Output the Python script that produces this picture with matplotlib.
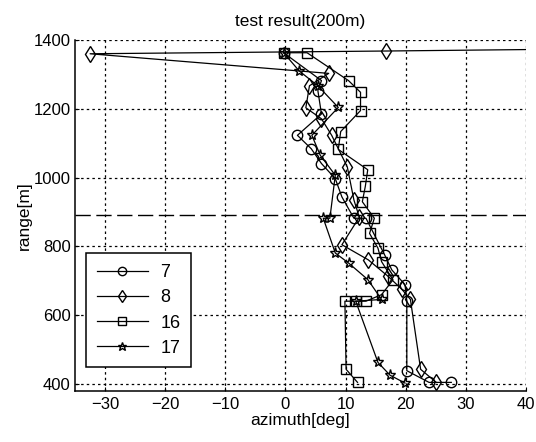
import matplotlib
matplotlib.use("Agg")
import matplotlib.pyplot as plt

plt.rcParams['font.family'] = ['Liberation Sans', 'DejaVu Sans']

# ---- data (azimuth [deg], range [m]) ----
labels = ["7", "8", "16", "17"]

az7 = [-0.3, 6.0, 5.4, 6.0, 2.0, 4.3, 6.0, 8.3, 9.4, 11.4, 13.4, 16.5, 17.7, 19.9, 20.2, 20.2, 23.9, 27.6]
rg7 = [1363, 1282, 1253, 1185, 1123, 1084, 1041, 997, 944, 882, 882, 776, 732, 689, 641, 439, 405, 405]

az8 = [50.0, 16.8, -32.5, 7.2, 4.0, 3.4, 6.0, 7.7, 10.3, 11.4, 12.3, 9.4, 13.8, 17.1, 19.4, 20.8, 22.5, 25.1]
rg8 = [1374, 1368, 1360, 1303, 1267, 1203, 1171, 1123, 1031, 935, 885, 805, 761, 713, 675, 646, 443, 405]

az16 = [-0.3, 3.6, 10.5, 12.5, 12.5, 9.2, 8.8, 13.7, 13.3, 12.8, 14.8, 14.0, 15.4, 16.0, 17.9, 16.0, 13.4, 11.7, 9.9, 10.1, 12.0]
rg16 = [1363, 1363, 1282, 1248, 1195, 1134, 1082, 1023, 975, 930, 882, 838, 795, 756, 703, 660, 641, 641, 641, 443, 405]

az17 = [-0.3, 2.3, 5.4, 8.8, 4.4, 5.8, 8.3, 7.4, 6.3, 8.3, 10.5, 13.7, 16.0, 11.7, 15.4, 17.4, 19.9]
rg17 = [1363, 1310, 1267, 1204, 1123, 1065, 1007, 882, 882, 781, 752, 704, 646, 641, 463, 426, 403]

ref_range = 891

xticks = [-30, -20, -10, 0, 10, 20, 30, 40]
yticks = [400, 600, 800, 1000, 1200, 1400]

fig = plt.figure(figsize=(5.36, 4.42), dpi=100)
ax = fig.add_axes([0.140, 0.1154, 0.841, 0.7941])

series = [(az7, rg7, 'o', 7.5), (az8, rg8, 'd', 8.0), (az16, rg16, 's', 7.5), (az17, rg17, '*', 8.0)]
for (az, rg, m, ms), lab in zip(series, labels):
    ax.plot(az, rg, color='black', lw=0.9, marker=m, markersize=ms,
            markerfacecolor='none', markeredgecolor='black', markeredgewidth=1.0,
            label=lab)

ax.axhline(ref_range, color='black', lw=1.0, linestyle=(0, (11, 4)))

ax.set_xlim(-35, 40)
ax.set_ylim(380, 1400)
ax.set_xticks(xticks)
ax.set_yticks(yticks)
ax.grid(True, color='black', linestyle=(0, (2, 2.5)), linewidth=0.9)
ax.set_axisbelow(True)

for s in ['top', 'right']:
    ax.spines[s].set_visible(False)
for s in ['left', 'bottom']:
    ax.spines[s].set_linewidth(1.1)

ax.tick_params(direction='in', length=3, width=0.8, labelsize=12, pad=4)
ax.tick_params(axis='y', pad=3)

ax.set_title("test result(200m)", fontsize=12.5, pad=10)
ax.set_xlabel("azimuth[deg]", fontsize=12.5, labelpad=1)
ax.set_ylabel("range[m]", fontsize=12.5, labelpad=1)

leg = ax.legend(loc='lower left', bbox_to_anchor=(0.025, 0.067), borderaxespad=0,
                fontsize=13, handlelength=2.8, labelspacing=0.45, markerscale=0.8,
                fancybox=False, framealpha=1, edgecolor='black', borderpad=0.6,
                handletextpad=0.7)
leg.get_frame().set_linewidth(1.1)

fig.savefig("out.png", dpi=100)
